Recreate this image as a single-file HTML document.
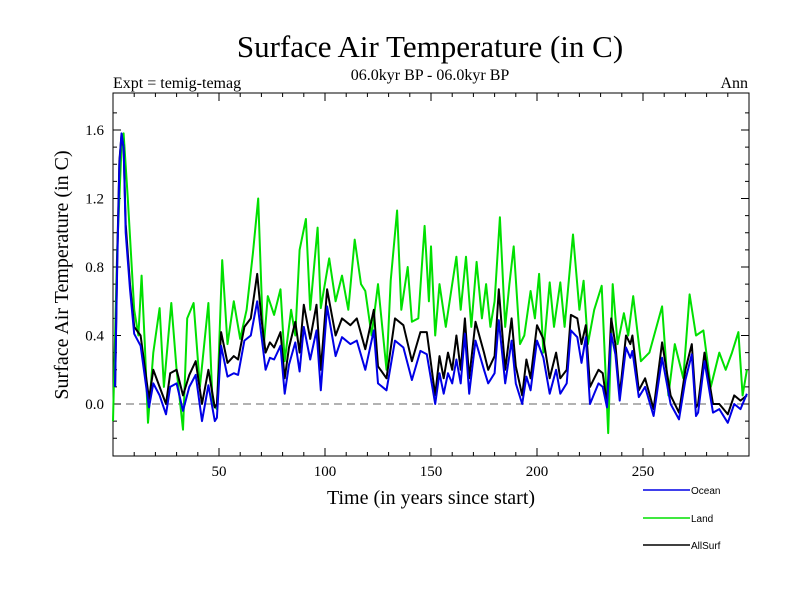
<!DOCTYPE html>
<html><head><meta charset="utf-8"><style>
body{margin:0;background:#fff}
svg text{font-family:"Liberation Serif",serif}
</style></head><body>
<svg id="c" width="800" height="600" xmlns="http://www.w3.org/2000/svg">
<text x="430" y="57" font-size="31" text-anchor="middle">Surface Air Temperature (in C)</text>
<text x="430" y="80" font-size="16" text-anchor="middle">06.0kyr BP - 06.0kyr BP</text>
<text x="113" y="88" font-size="16">Expt = temig-temag</text>
<text x="748" y="88" font-size="16" text-anchor="end">Ann</text>
<text x="431" y="504" font-size="20" text-anchor="middle">Time (in years since start)</text>
<text transform="translate(68,275) rotate(-90)" font-size="20" text-anchor="middle">Surface Air Temperature (in C)</text>
<g id="axes"></g><g id="series"></g><g id="legend"></g>
</svg>
<script>
const xTickLabels=[50,100,150,200,250];
const yTickLabels=[0.0,0.4,0.8,1.2,1.6];
const seriesNames=["Ocean","Land","AllSurf"];
const oceanYears=[1,2,3,4,5,6,8,10,13,17,19,22,25,27,30,33,36,39,42,45,48,49,51,54,57,59,62,65,68,70,72,74,76,79,81,83,86,88,90,93,96,98,101,105,108,112,115,119,123,125,129,133,137,141,145,148,152,154,156,158,160,162,164,166,168,171,175,177,180,182,185,188,190,193,195,197,200,203,206,209,211,214,216,219,221,223,225,227,229,231,233,235,237,239,242,244,245,248,251,255,259,263,267,270,273,275,276,279,283,286,290,293,296,299];
const oceanVals=[0.1,0.8,1.4,1.58,1.5,1.0,0.67,0.41,0.34,-0.02,0.12,0.05,-0.06,0.1,0.12,-0.04,0.1,0.17,-0.1,0.11,-0.1,-0.08,0.34,0.16,0.18,0.17,0.37,0.4,0.6,0.4,0.2,0.27,0.26,0.34,0.06,0.23,0.36,0.19,0.45,0.26,0.43,0.08,0.57,0.28,0.39,0.35,0.37,0.2,0.43,0.12,0.08,0.37,0.33,0.14,0.31,0.29,0.0,0.18,0.06,0.18,0.12,0.26,0.12,0.41,0.06,0.37,0.2,0.12,0.18,0.49,0.12,0.37,0.12,0.0,0.16,0.08,0.37,0.27,0.06,0.2,0.06,0.12,0.43,0.39,0.24,0.39,0.0,0.06,0.12,0.1,-0.02,0.41,0.29,0.02,0.33,0.27,0.31,0.04,0.1,-0.07,0.27,0.0,-0.09,0.14,0.29,-0.07,-0.05,0.25,-0.05,-0.03,-0.11,0.0,-0.03,0.06];
const allYears=[1,2,3,4,5,6,8,10,13,17,19,22,25,27,30,33,36,39,42,45,48,49,51,54,57,59,62,65,68,70,72,74,76,79,81,83,86,88,90,93,96,98,101,105,108,112,115,119,123,125,129,133,137,141,145,148,152,154,156,158,160,162,164,166,168,171,175,177,180,182,185,188,190,193,195,197,200,203,206,209,211,214,216,219,221,223,225,227,229,231,233,235,237,239,242,244,245,248,251,255,259,263,267,270,273,275,276,279,283,286,290,293,296,299];
const allVals=[0.1,0.85,1.42,1.57,1.5,1.05,0.7,0.45,0.4,0.03,0.2,0.1,0.0,0.18,0.2,0.05,0.17,0.25,0.0,0.2,-0.02,0.0,0.42,0.24,0.28,0.26,0.45,0.5,0.76,0.5,0.3,0.36,0.33,0.42,0.15,0.33,0.48,0.3,0.58,0.38,0.58,0.2,0.67,0.4,0.5,0.46,0.5,0.32,0.55,0.22,0.15,0.5,0.46,0.25,0.42,0.42,0.05,0.28,0.15,0.3,0.2,0.4,0.2,0.5,0.15,0.48,0.3,0.2,0.28,0.67,0.2,0.5,0.22,0.05,0.26,0.15,0.46,0.38,0.15,0.3,0.15,0.2,0.52,0.5,0.35,0.46,0.1,0.15,0.2,0.18,0.0,0.5,0.35,0.05,0.4,0.35,0.4,0.08,0.15,-0.03,0.36,0.05,-0.05,0.2,0.35,-0.02,0.0,0.3,0.0,0.0,-0.06,0.05,0.02,0.05];
const landYears=[0,2,4,5,7,10,12,13.5,15,16.5,19,22,24,27.5,30,33,35,38,41,45,47,49,51.5,54,57,60,63,66,68.5,71,73,76,79,81,84,86,88,91,93,96.5,98,102,105,108,111,114,117,119,122,125,129,131,134,136,139,141,144,147,149,150,152,154,157,160,162,164,166.5,169,171.5,174,176,178,180,182.5,185,187,189,192,194,197,199,201,203,206,208,211,213,217,220,222,224,227,230.5,233.6,235.7,238,241,243,245.4,249,253,259,262,265,269,272,275,278.5,282,286,289,292,295,297,299];
const landVals=[-0.1,0.9,1.5,1.58,1.2,0.55,0.4,0.75,0.35,-0.11,0.3,0.56,0.1,0.59,0.2,-0.15,0.5,0.59,0.1,0.59,0.0,-0.03,0.84,0.35,0.6,0.38,0.55,0.88,1.2,0.32,0.63,0.52,0.67,0.25,0.55,0.4,0.9,1.08,0.55,1.03,0.56,0.85,0.6,0.75,0.55,0.96,0.7,0.66,0.4,0.7,0.2,0.72,1.13,0.55,0.8,0.48,0.5,1.04,0.6,0.92,0.4,0.7,0.45,0.7,0.86,0.55,0.86,0.45,0.83,0.5,0.7,0.45,0.6,1.09,0.45,0.7,0.92,0.35,0.4,0.66,0.5,0.76,0.3,0.71,0.45,0.71,0.45,0.99,0.55,0.72,0.35,0.55,0.69,-0.17,0.7,0.35,0.53,0.4,0.63,0.25,0.3,0.57,0.05,0.35,0.15,0.64,0.4,0.43,0.1,0.3,0.2,0.3,0.42,0.05,0.2];

const X0=113,X1=749,Y0=93,Y1=456,XMIN=0,XMAX=300,YMIN=-0.3,YMAX=1.82;
const sx=v=>X0+(v-XMIN)/(XMAX-XMIN)*(X1-X0);
const sy=v=>404-v*171.25;
const NS="http://www.w3.org/2000/svg";
function mk(t,a,p){const e=document.createElementNS(NS,t);for(const k in a)e.setAttribute(k,a[k]);p.appendChild(e);return e;}
const axes=document.getElementById('axes');
const frame=mk('rect',{x:X0,y:Y0,width:X1-X0,height:Y1-Y0,fill:'none',stroke:'#000','stroke-width':1},axes);


const zl=mk('line',{x1:X0,x2:X1,y1:sy(0),y2:sy(0),stroke:'#666','stroke-dasharray':'8,5','stroke-width':1},axes);


for(let v=10;v<XMAX;v+=10){const L=v%50===0?8:4;
mk('line',{x1:sx(v),x2:sx(v),y1:Y1,y2:Y1-L,stroke:'#000'},axes);
mk('line',{x1:sx(v),x2:sx(v),y1:Y0,y2:Y0+L,stroke:'#000'},axes);}
for(let i=-2;i<=17;i++){const v=i/10;const L=i%4===0?8:4;
mk('line',{x1:X0,x2:X0+L,y1:sy(v),y2:sy(v),stroke:'#000'},axes);
mk('line',{x1:X1,x2:X1-L,y1:sy(v),y2:sy(v),stroke:'#000'},axes);}
xTickLabels.forEach(v=>{const t=mk('text',{x:sx(v),y:Y1+20,'font-size':15,'text-anchor':'middle'},axes);t.textContent=v;

});
yTickLabels.forEach(v=>{const t=mk('text',{x:X0-9,y:sy(v)+5,'font-size':15,'text-anchor':'end'},axes);t.textContent=v.toFixed(1);

});
const ser=document.getElementById('series');
const defs=[[landYears,landVals,'#00e000','land-line'],[allYears,allVals,'#000','allsurf-line'],[oceanYears,oceanVals,'#0000e6','ocean-line']];
defs.forEach(([xs,ys,c,n])=>{const d=xs.map((x,i)=>(i?'L':'M')+sx(x).toFixed(1)+','+sy(ys[i]).toFixed(1)).join('');
const p=mk('path',{d:d,fill:'none',stroke:c,'stroke-width':2,'stroke-linejoin':'round'},ser);

});
const lg=document.getElementById('legend');
const lc=['#0000e6','#00e000','#000'];const ly=[490,518,545];
seriesNames.forEach((s,i)=>{const l=mk('line',{x1:643,x2:690,y1:ly[i],y2:ly[i],stroke:lc[i],'stroke-width':1.5},lg);


const t=mk('text',{x:691,y:ly[i]+4,'font-size':10,style:'font-family:"Liberation Sans",sans-serif'},lg);t.textContent=s;

});
</script>
</body></html>
